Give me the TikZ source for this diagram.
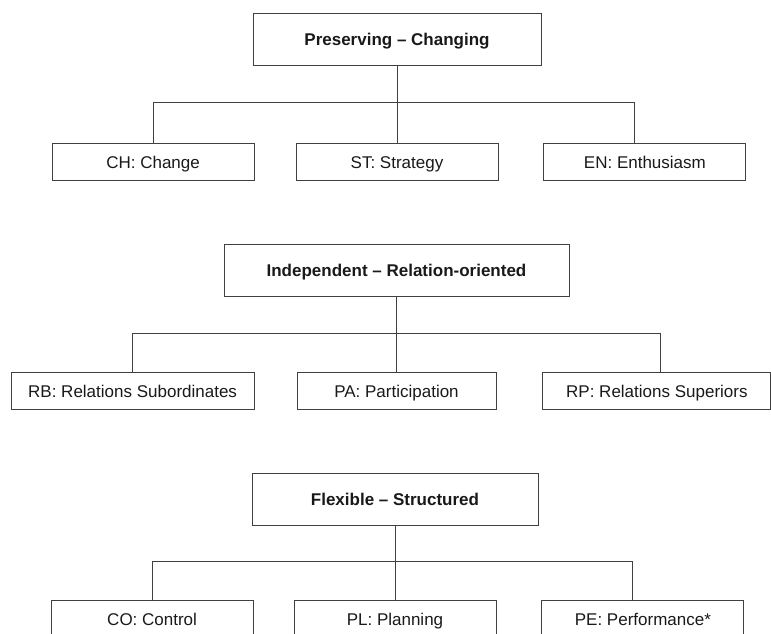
\documentclass[tikz,border=0pt]{standalone}
\usepackage{fontspec}
\setmainfont{Liberation Sans}
\usetikzlibrary{positioning}

\begin{document}
\begin{tikzpicture}[x=1pt,y=-1pt,
	head/.style={draw=black!75,line width=0.9pt,minimum height=52pt,inner sep=0pt,text height=12.2pt,text depth=0pt,text=black!90,font=\fontsize{17}{20}\selectfont\bfseries},
	item/.style={draw=black!75,line width=0.9pt,minimum width=202pt,minimum height=37pt,inner sep=0pt,text height=12.2pt,text depth=0pt,text=black!90,font=\fontsize{17}{20}\selectfont},
	link/.style={draw=black!75,line width=0.9pt}]
	\useasboundingbox (0,0) rectangle (771,634);
	% Preserving -- Changing
	\node[head,minimum width=288pt] (pc) at (397,39.5) {Preserving -- Changing};
	\node[item,below=77pt of pc] (st) {ST: Strategy};
	\node[item,left=41pt of st] (ch) {CH: Change};
	\node[item,right=45pt of st] (en) {EN: Enthusiasm};
	\coordinate (pcbar) at ([yshift=-36pt]pc.south);
	\draw[link] (pc.south) -- (st.north);
	\draw[link] (ch.north) |- (pcbar) -| ([xshift=-10pt]en.north);
	% Independent -- Relation-oriented
	\node[head,minimum width=345pt] (ir) at (396.5,270) {Independent -- Relation-oriented};
	\node[item,minimum width=199pt,below=76pt of ir] (pa) {PA: Participation};
	\node[item,minimum width=243pt,left=42pt of pa] (rb) {RB: Relations Subordinates};
	\node[item,minimum width=228pt,right=46pt of pa] (rp) {RP: Relations Superiors};
	\coordinate (irbar) at ([yshift=-37pt]ir.south);
	\draw[link] (ir.south) -- (pa.north);
	\draw[link] (rb.north) |- (irbar) -| ([xshift=4pt]rp.north);
	% Flexible -- Structured
	\node[head,minimum width=286pt] (fs) at (395,499) {Flexible -- Structured};
	\node[item,below=75pt of fs] (pl) {PL: Planning};
	\node[item,left=40pt of pl] (co) {CO: Control};
	\node[item,right=45pt of pl] (pe) {PE: Performance*};
	\coordinate (fsbar) at ([yshift=-36pt]fs.south);
	\draw[link] (fs.south) -- (pl.north);
	\draw[link] (co.north) |- (fsbar) -| ([xshift=-10pt]pe.north);
\end{tikzpicture}
\end{document}
